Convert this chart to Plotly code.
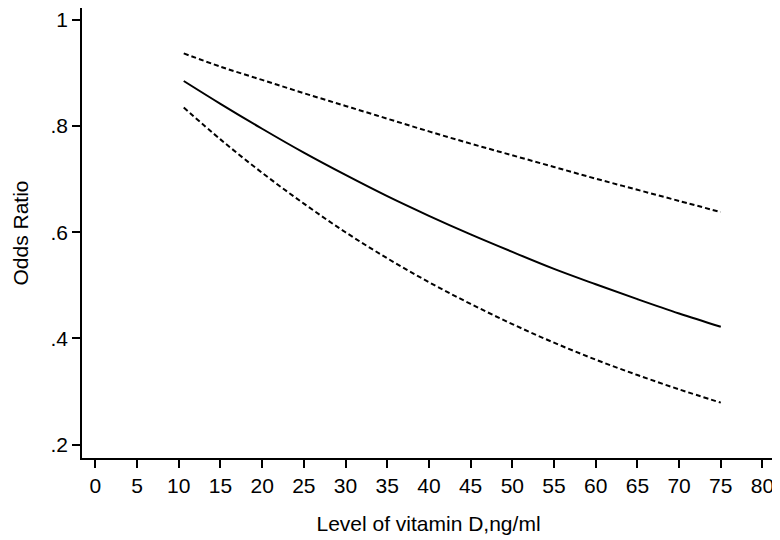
import plotly.graph_objects as go

# Vitamin D level (ng/ml)
vit_d = [10.6, 15, 20, 25, 30, 35, 40, 45, 50, 55, 60, 65, 70, 75]
# Odds ratio estimate and 95% CI bounds
odds_ratio = [0.885, 0.842, 0.795, 0.750, 0.708, 0.668, 0.631, 0.596, 0.563, 0.531, 0.502, 0.474, 0.447, 0.422]
ci_upper = [0.937, 0.912, 0.887, 0.862, 0.838, 0.814, 0.790, 0.767, 0.745, 0.723, 0.701, 0.680, 0.659, 0.638]
ci_lower = [0.835, 0.775, 0.712, 0.654, 0.600, 0.551, 0.506, 0.465, 0.427, 0.392, 0.360, 0.331, 0.304, 0.279]

x_ticks = list(range(0, 81, 5))
y_ticks = [0.2, 0.4, 0.6, 0.8, 1.0]
y_tick_labels = ['.2', '.4', '.6', '.8', '1']

fig = go.Figure()

# Confidence band edges (dashed)
fig.add_trace(go.Scatter(x=vit_d, y=ci_upper, mode='lines',
                         line=dict(color='black', width=2, dash='5px,3px'),
                         line_shape='spline', showlegend=False))
fig.add_trace(go.Scatter(x=vit_d, y=ci_lower, mode='lines',
                         line=dict(color='black', width=2, dash='5px,3px'),
                         line_shape='spline', showlegend=False))
# Point estimate
fig.add_trace(go.Scatter(x=vit_d, y=odds_ratio, mode='lines',
                         line=dict(color='black', width=2),
                         line_shape='spline', showlegend=False))

axis_font = dict(family='Liberation Sans, Arial, sans-serif', size=21, color='black')
title_font = dict(family='Liberation Sans, Arial, sans-serif', size=21, color='black')

fig.update_xaxes(range=[-1.6, 81.5], tickvals=x_ticks,
                 showline=True, linecolor='black', linewidth=1.5,
                 ticks='outside', ticklen=8, tickwidth=1.5, tickcolor='black',
                 showgrid=False, zeroline=False, tickfont=axis_font,
                 title=dict(text='Level of vitamin D,ng/ml', font=title_font, standoff=20))
fig.update_yaxes(range=[0.1747, 1.0225], tickvals=y_ticks, ticktext=y_tick_labels,
                 showline=True, linecolor='black', linewidth=1.5,
                 ticks='outside', ticklen=8, tickwidth=1.5, tickcolor='black',
                 showgrid=False, zeroline=False, tickfont=axis_font,
                 title=dict(text='Odds Ratio', font=title_font, standoff=16))

# page body adds an 8px margin, so the figure is sized to fit the window
fig.update_layout(width=772, height=532,
                  margin=dict(l=74, r=5, t=0, b=82),
                  paper_bgcolor='white', plot_bgcolor='white',
                  font=axis_font)

fig.write_html("out.html")
